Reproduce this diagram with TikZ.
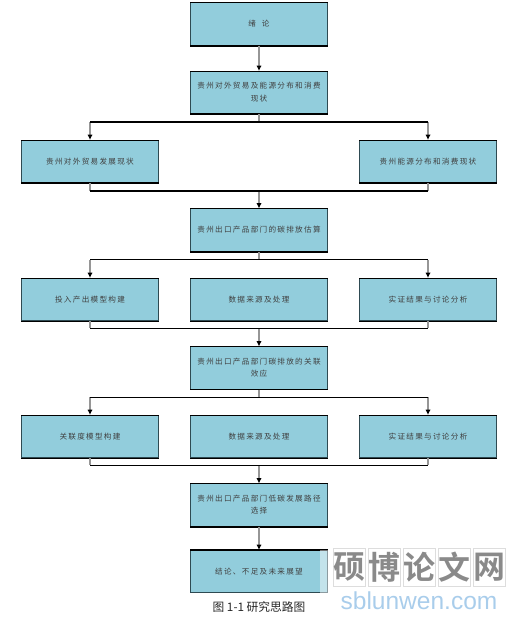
\documentclass[tikz,border=0pt]{standalone}
\usepackage{fontspec}
\usetikzlibrary{arrows.meta}
\setmainfont{Liberation Sans}
\newfontfamily\cjkbox[LetterSpace=17]{Noto Sans CJK SC}
\newfontfamily\cjkcap{Noto Sans CJK SC}
\newfontfamily\cjkmark{Noto Sans CJK SC Bold}
\newcommand\boxlines[1]{\raisebox{-1.5pt}{\begin{tabular}{@{}c@{}}#1\end{tabular}}}
\definecolor{boxfill}{HTML}{92CDDC}
\definecolor{boxedge}{HTML}{2E4A52}
\definecolor{shaft}{HTML}{969696}
\definecolor{marktext}{HTML}{8A8A8A}
\definecolor{markblue}{HTML}{A9CDEB}
\definecolor{markgrid}{HTML}{DDDDDD}
\tikzset{
  x=0.75pt,y=-0.75pt,
  flowbox/.style={draw=boxedge,line width=0.7pt,fill=boxfill,minimum width=102.75pt,minimum height=31.6pt,inner sep=0pt,text=black!75,font=\cjkbox\fontsize{5.7pt}{9.4pt}\selectfont},
  heavyedge/.style={draw=black,line width=1.5pt},
  thinedge/.style={draw=black,line width=0.6pt},
  stem/.style={draw=shaft,line width=1.2pt},
  feed/.style={stem,-{Latex[black,length=4pt,width=4pt]}},
  heavybus/.style={draw=black,line width=1.6pt},
  thinbus/.style={draw=black,line width=0.7pt},
  markcell/.style={draw=markgrid,line width=0.6pt,minimum width=24pt,minimum height=28pt,inner sep=0pt,text=marktext,font=\cjkmark\fontsize{24pt}{24pt}\selectfont},
}
\begin{document}
\begin{tikzpicture}
\useasboundingbox (0,0) rectangle (522,620);
% boxes
\node[flowbox] (a)  at (259,24)    {\boxlines{绪\ \ 论}};
\node[flowbox] (b)  at (259,92.5)  {\boxlines{贵州对外贸易及能源分布和消费\\现状}};
\node[flowbox] (bl) at (90,161.5)  {\boxlines{贵州对外贸易发展现状}};
\node[flowbox] (br) at (428,161.5) {\boxlines{贵州能源分布和消费现状}};
\node[flowbox] (c)  at (259,230)   {\boxlines{贵州出口产品部门的碳排放估算}};
\node[flowbox] (cl) at (90,299.5)  {\boxlines{投入产出模型构建}};
\node[flowbox] (cm) at (259,299.5) {\boxlines{数据来源及处理}};
\node[flowbox] (cr) at (428,299.5) {\boxlines{实证结果与讨论分析}};
\node[flowbox] (d)  at (259,368)   {\boxlines{贵州出口产品部门碳排放的关联\\效应}};
\node[flowbox] (dl) at (90,436.5)  {\boxlines{关联度模型构建}};
\node[flowbox] (dm) at (259,436.5) {\boxlines{数据来源及处理}};
\node[flowbox] (dr) at (428,436.5) {\boxlines{实证结果与讨论分析}};
\node[flowbox] (e)  at (259,505)   {\boxlines{贵州出口产品部门低碳发展路径\\选择}};
\node[flowbox] (f)  at (259,571.5) {\boxlines{结论、不足及未来展望}};
% box edges
\foreach \n in {a,b,bl,br,c,e}{
  \draw[heavyedge] (\n.south west) -- (\n.south east);
  \draw[thinedge] (\n.north west) -- (\n.north east);}
\foreach \n in {cl,cm,cr,dl,dm,dr,d}{
  \draw[thinedge] (\n.north west) -- (\n.north east);
  \draw[thinedge] (\n.south west) -- (\n.south east);}
\draw[heavyedge] (f.north west) -- (f.north east);
% bus coordinates
\coordinate (s1) at (259,122);
\coordinate (s1l) at (90,122);
\coordinate (s1r) at (428,122);
\coordinate (s2) at (259,191);
\coordinate (s2l) at (90,191);
\coordinate (s2r) at (428,191);
\coordinate (s3) at (259,259.5);
\coordinate (s3l) at (90,259.5);
\coordinate (s3r) at (428,259.5);
\coordinate (s4) at (259,328);
\coordinate (s4l) at (90,328);
\coordinate (s4r) at (428,328);
\coordinate (s5) at (259,397);
\coordinate (s5l) at (90,397);
\coordinate (s5r) at (428,397);
\coordinate (s6) at (259,465);
\coordinate (s6l) at (90,465);
\coordinate (s6r) at (428,465);
% connectors
\draw[feed] (a) -- (b);
\draw[stem] (b) -- (s1);
\draw[feed] (s1l) -- (bl);
\draw[feed] (s1r) -- (br);
\draw[stem] (bl) -- (s2l);
\draw[stem] (br) -- (s2r);
\draw[feed] (s2) -- (c);
\draw[stem] (c) -- (s3);
\draw[feed] (s3l) -- (cl);
\draw[feed] (s3r) -- (cr);
\draw[stem] (cl) -- (s4l);
\draw[stem] (cr) -- (s4r);
\draw[feed] (s4) -- (d);
\draw[stem] (d) -- (s5);
\draw[feed] (s5l) -- (dl);
\draw[feed] (s5r) -- (dr);
\draw[stem] (dl) -- (s6l);
\draw[stem] (dr) -- (s6r);
\draw[feed] (s6) -- (e);
\draw[feed] (e) -- (f);
\draw[heavybus] (s1l) -- (s1r);
\draw[heavybus] (s2l) -- (s2r);
\draw[thinbus] (s3l) -- (s3r);
\draw[thinbus] (s4l) -- (s4r);
\draw[thinbus] (s5l) -- (s5r);
\draw[thinbus] (s6l) -- (s6r);
% caption
\node[inner sep=0pt,text=black!85,font=\cjkcap\fontsize{8.8pt}{10pt}\selectfont] (cap) at (259,607.5) {图 1-1 研究思路图};
% watermark
\fill[white,opacity=0.45] (320,550) rectangle (328,593);
\node[markcell] (m1) at (349,567.5) {硕};
\node[markcell] (m2) at (384,567.5) {博};
\node[markcell] (m3) at (419,567.5) {论};
\node[markcell] (m4) at (454,567.5) {文};
\node[markcell] (m5) at (489,567.5) {网};
\node[inner sep=0pt,text=markblue,font=\fontsize{18.4pt}{19pt}\selectfont] (m6) at (419,601) {sblunwen.com};
\end{tikzpicture}
\end{document}
